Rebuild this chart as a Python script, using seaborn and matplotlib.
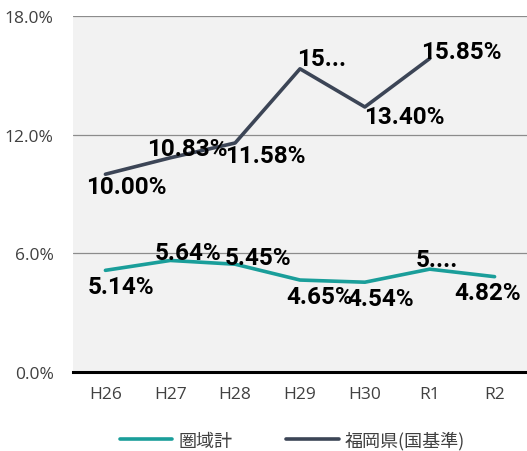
import numpy as np
import pandas as pd
import matplotlib
matplotlib.use("Agg")
import matplotlib.pyplot as plt
import seaborn as sns
from matplotlib import font_manager as fm

categories = ["H26", "H27", "H28", "H29", "H30", "R1", "R2"]
area_values = [5.14, 5.64, 5.45, 4.65, 4.54, 5.20, 4.82]
area_labels = ["5.14%", "5.64%", "5.45%", "4.65%", "4.54%", "5....", "4.82%"]
pref_values = [10.00, 10.83, 11.58, 15.33, 13.40, 15.85, np.nan]
pref_labels = ["10.00%", "10.83%", "11.58%", "15...", "13.40%", "15.85%", ""]
series_names = ["圏域計", "福岡県(国基準)"]
y_ticks = [0, 6, 12, 18]
y_tick_labels = ["0.0%", "6.0%", "12.0%", "18.0%"]

colors = {"圏域計": "#1a9e9a", "福岡県(国基準)": "#3c4556"}

df = pd.DataFrame({
    "year": categories * 2,
    "value": area_values + pref_values,
    "series": [series_names[0]] * len(categories) + [series_names[1]] * len(categories),
})

sns.set_theme(style="white")
plt.rcParams["font.family"] = ["Open Sans", "Noto Sans CJK JP", "DejaVu Sans"]

available = {f.name for f in fm.fontManager.ttflist}
if "Liberation Sans Narrow" in available:
    label_family, label_size = "Liberation Sans Narrow", 19
else:
    label_family, label_size = "Roboto", 17.5

fig = plt.figure(figsize=(5.27, 4.52), dpi=100)
ax = fig.add_axes([73 / 527, 1 - 373 / 452, 1 - 73 / 527, (373 - 17) / 452])
ax.set_facecolor("#f2f2f2")

sns.lineplot(data=df, x="year", y="value", hue="series", palette=colors,
             linewidth=2.6, sort=False, ax=ax, legend=True)

ax.set_xlim(-0.5, 6.5)
ax.set_ylim(0, 18)
ax.set_yticks(y_ticks)
ax.set_yticklabels(y_tick_labels)
ax.set_xlabel("")
ax.set_ylabel("")
for yv in y_ticks[1:]:
    ax.axhline(yv, color="#8c8c8c", linewidth=0.9, zorder=0)
for s in ["top", "right", "left"]:
    ax.spines[s].set_visible(False)
ax.spines["bottom"].set_color("black")
ax.spines["bottom"].set_linewidth(2.2)
ax.tick_params(axis="both", length=0, labelsize=12.5, colors="#404040")
ax.tick_params(axis="x", pad=10)
ax.tick_params(axis="y", pad=14)

area_offsets = [(-18, -16), (-16, 8), (-10, 7), (-14, -16), (-18, -16), (-14, 10), (-40, -16)]
pref_offsets = [(-19, -12), (-23, 9), (-10, -13), (-3, 10), (-1, -10), (-9, 7), (0, 0)]

for vals, labs, offs in [(area_values, area_labels, area_offsets),
                         (pref_values, pref_labels, pref_offsets)]:
    for i, (v, t, o) in enumerate(zip(vals, labs, offs)):
        if not t or np.isnan(v):
            continue
        ax.annotate(t, xy=(i, v), xytext=o, textcoords="offset pixels",
                    ha="left", va="center", fontsize=label_size, fontweight="bold",
                    family=label_family, color="black", zorder=5,
                    annotation_clip=False)

handles, labels = ax.get_legend_handles_labels()
ax.legend_.remove()
fig.legend(handles, labels, loc="lower center", bbox_to_anchor=(0.555, -0.033),
           ncol=2, frameon=False, handlelength=2.9, columnspacing=3.0,
           prop={"family": ["Noto Sans CJK JP", "DejaVu Sans"], "size": 13},
           labelcolor="#404040", handletextpad=0.35)

fig.savefig("out.png", dpi=100)
